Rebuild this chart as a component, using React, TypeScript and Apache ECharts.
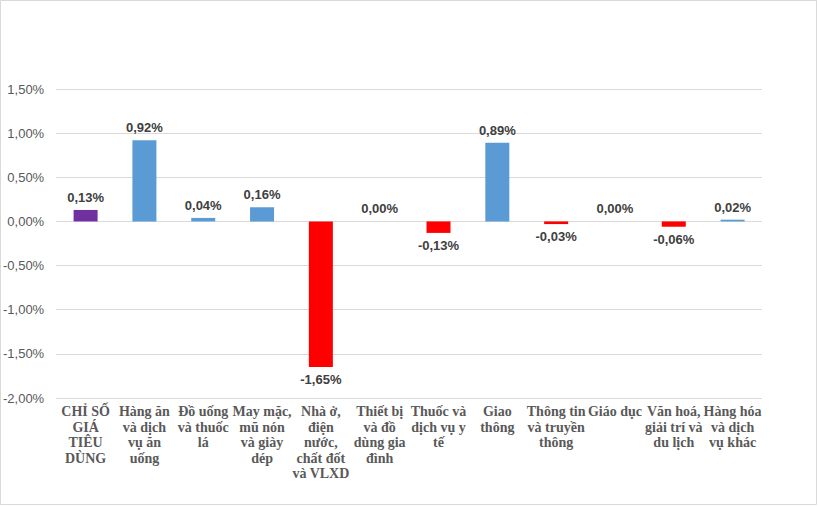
import React, { useEffect, useRef } from "react";
import * as echarts from "echarts";

const categories: string[] = [
  "CHỈ SỐ\nGIÁ\nTIÊU\nDÙNG",
  "Hàng ăn\nvà dịch\nvụ ăn\nuống",
  "Đồ uống\nvà thuốc\nlá",
  "May mặc,\nmũ nón\nvà giày\ndép",
  "Nhà ở,\nđiện\nnước,\nchất đốt\nvà VLXD",
  "Thiết bị\nvà đồ\ndùng gia\nđình",
  "Thuốc và\ndịch vụ y\ntế",
  "Giao\nthông",
  "Thông tin\nvà truyền\nthông",
  "Giáo dục",
  "Văn hoá,\ngiải trí và\ndu lịch",
  "Hàng hóa\nvà dịch\nvụ khác",
];

const values: number[] = [0.13, 0.92, 0.04, 0.16, -1.65, 0.0, -0.13, 0.89, -0.03, 0.0, -0.06, 0.02];

const yMin = -2;
const yMax = 1.5;
const yStep = 0.5;

const fmt = (v: number) => v.toFixed(2).replace(".", ",") + "%";

export default function App() {
  const ref = useRef<HTMLDivElement>(null);
  useEffect(() => {
    if (!ref.current) return;
    const chart = echarts.init(ref.current, null, { renderer: "svg" });
    const data = values.map((v, i) => ({
      value: v,
      itemStyle: { color: i === 0 ? "#7030A0" : v < 0 ? "#FF0000" : "#5B9BD5" },
      label: { position: v < 0 ? "bottom" : "top" },
    }));
    chart.setOption({
      animation: false,
      backgroundColor: "#ffffff",
      graphic: [
        {
          type: "rect",
          shape: { x: 0.5, y: 0.5, width: 816, height: 504 },
          style: { fill: "none", stroke: "#d9d9d9", lineWidth: 1 },
          silent: true,
        },
      ],
      grid: { left: 56, right: 56, top: 89, bottom: 108, containLabel: false },
      xAxis: {
        type: "category",
        data: categories,
        axisLine: { show: false },
        axisTick: { show: false },
        axisLabel: {
          interval: 0,
          margin: 6,
          fontFamily: "'Liberation Serif', 'Times New Roman', serif",
          fontWeight: "bold",
          fontSize: 14,
          lineHeight: 15.5,
          color: "#595959",
          verticalAlign: "top",
        },
      },
      yAxis: {
        type: "value",
        min: yMin,
        max: yMax,
        interval: yStep,
        axisLine: { show: false },
        axisTick: { show: false },
        splitLine: { lineStyle: { color: "#d9d9d9", width: 1 } },
        axisLabel: {
          formatter: (v: number) => fmt(v),
          fontFamily: "'Liberation Sans', Arial, sans-serif",
          fontSize: 13,
          color: "#595959",
          margin: 12,
        },
      },
      series: [
        {
          type: "bar",
          data,
          barWidth: 24,
          label: {
            show: true,
            distance: 6,
            formatter: (p: any) => fmt(p.value),
            fontFamily: "'Liberation Sans', Arial, sans-serif",
            fontWeight: "bold",
            fontSize: 13,
            color: "#404040",
          },
        },
      ],
    });
    return () => chart.dispose();
  }, []);
  return (
    <div
      ref={ref}
      style={{ position: "absolute", left: 0, top: 0, width: 818, height: 506 }}
    />
  );
}
